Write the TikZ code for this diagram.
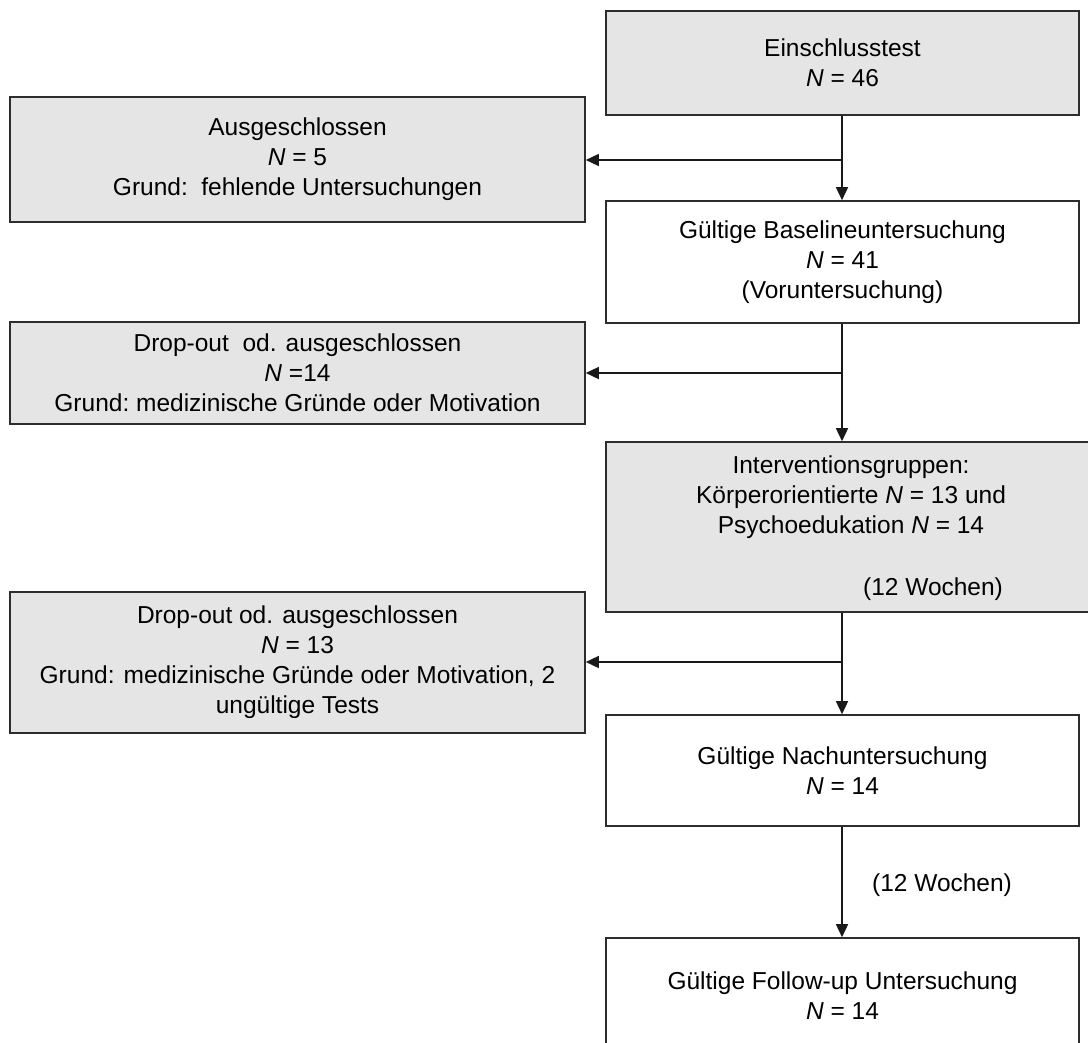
\documentclass[tikz,border=0pt]{standalone}
\usepackage{fontspec}
\setmainfont{Liberation Sans}
\usetikzlibrary{arrows.meta,calc}
\definecolor{boxgray}{RGB}{229,229,229}
\definecolor{edgegray}{RGB}{45,45,45}
\tikzset{
  flowbox/.style={draw=edgegray, line width=1.6pt, inner sep=0pt, align=center,
    font=\fontsize{24.5}{30}\selectfont},
  greybox/.style={flowbox, fill=boxgray},
  whitebox/.style={flowbox, fill=white},
  plain/.style={inner sep=0pt, align=center, font=\fontsize{24.5}{30}\selectfont},
  conn/.style={draw=black!90, line width=1.5pt, -{Triangle[length=13pt,width=12pt]}},
}
\begin{document}
\begin{tikzpicture}[x=1pt,y=-1pt]
\useasboundingbox (0,0) rectangle (1088,1043);
\clip (0,0) rectangle (1088,1043);
\fill[white] (0,0) rectangle (1088,1043);

\node[greybox, minimum width=473pt, minimum height=104pt] (ein) at (842.5,63)
  {Einschlusstest\\\textit{N} = 46};
\node[greybox, minimum width=575pt, minimum height=125pt] (aus) at (297.5,159.5)
  {Ausgeschlossen\\\textit{N} = 5\\Grund:\ \ fehlende Untersuchungen};
\node[whitebox, minimum width=473pt, minimum height=122pt] (base) at (842.5,262)
  {Gültige Baselineuntersuchung\\\textit{N} = 41\\(Voruntersuchung)};
\node[greybox, minimum width=575pt, minimum height=102pt] (dropa) at (297.5,373)
  {Drop-out\ \ od. ausgeschlossen\\\textit{N} =14\\Grund:\ medizinische Gründe oder Motivation};
\node[greybox, minimum width=490pt, minimum height=170pt] (interv) at (851,527) {};
\node[plain] (intervtext) at (851,497)
  {Interventionsgruppen:\\Körperorientierte \textit{N} = 13 und\\Psychoedukation \textit{N} = 14};
\node[plain] (intervweeks) at (933,589) {(12 Wochen)};
\node[greybox, minimum width=575pt, minimum height=141pt] (dropb) at (297.5,662.5)
  {Drop-out od. ausgeschlossen\\\textit{N} = 13\\Grund: medizinische Gründe oder Motivation, 2\\ungültige Tests};
\node[whitebox, minimum width=473pt, minimum height=111pt] (nach) at (842.5,770.5)
  {Gültige Nachuntersuchung\\\textit{N} = 14};
\node[whitebox, minimum width=473pt, minimum height=116pt] (follow) at (842.5,996)
  {Gültige Follow-up Untersuchung\\\textit{N} = 14};
\node[plain] (weeks) at (942,885) {(12 Wochen)};

\coordinate (ja) at (842,160);
\coordinate (jb) at (842,373);
\coordinate (jc) at (842,662);

\draw[conn] (ein.south -| ja) -- (base.north -| ja);
\draw[conn] (ja) -- (ja -| aus.east);
\draw[conn] (base.south -| jb) -- (interv.north -| jb);
\draw[conn] (jb) -- (jb -| dropa.east);
\draw[conn] (interv.south -| jc) -- (nach.north -| jc);
\draw[conn] (jc) -- (jc -| dropb.east);
\draw[conn] (nach.south -| jc) -- (follow.north -| jc);
\end{tikzpicture}
\end{document}
